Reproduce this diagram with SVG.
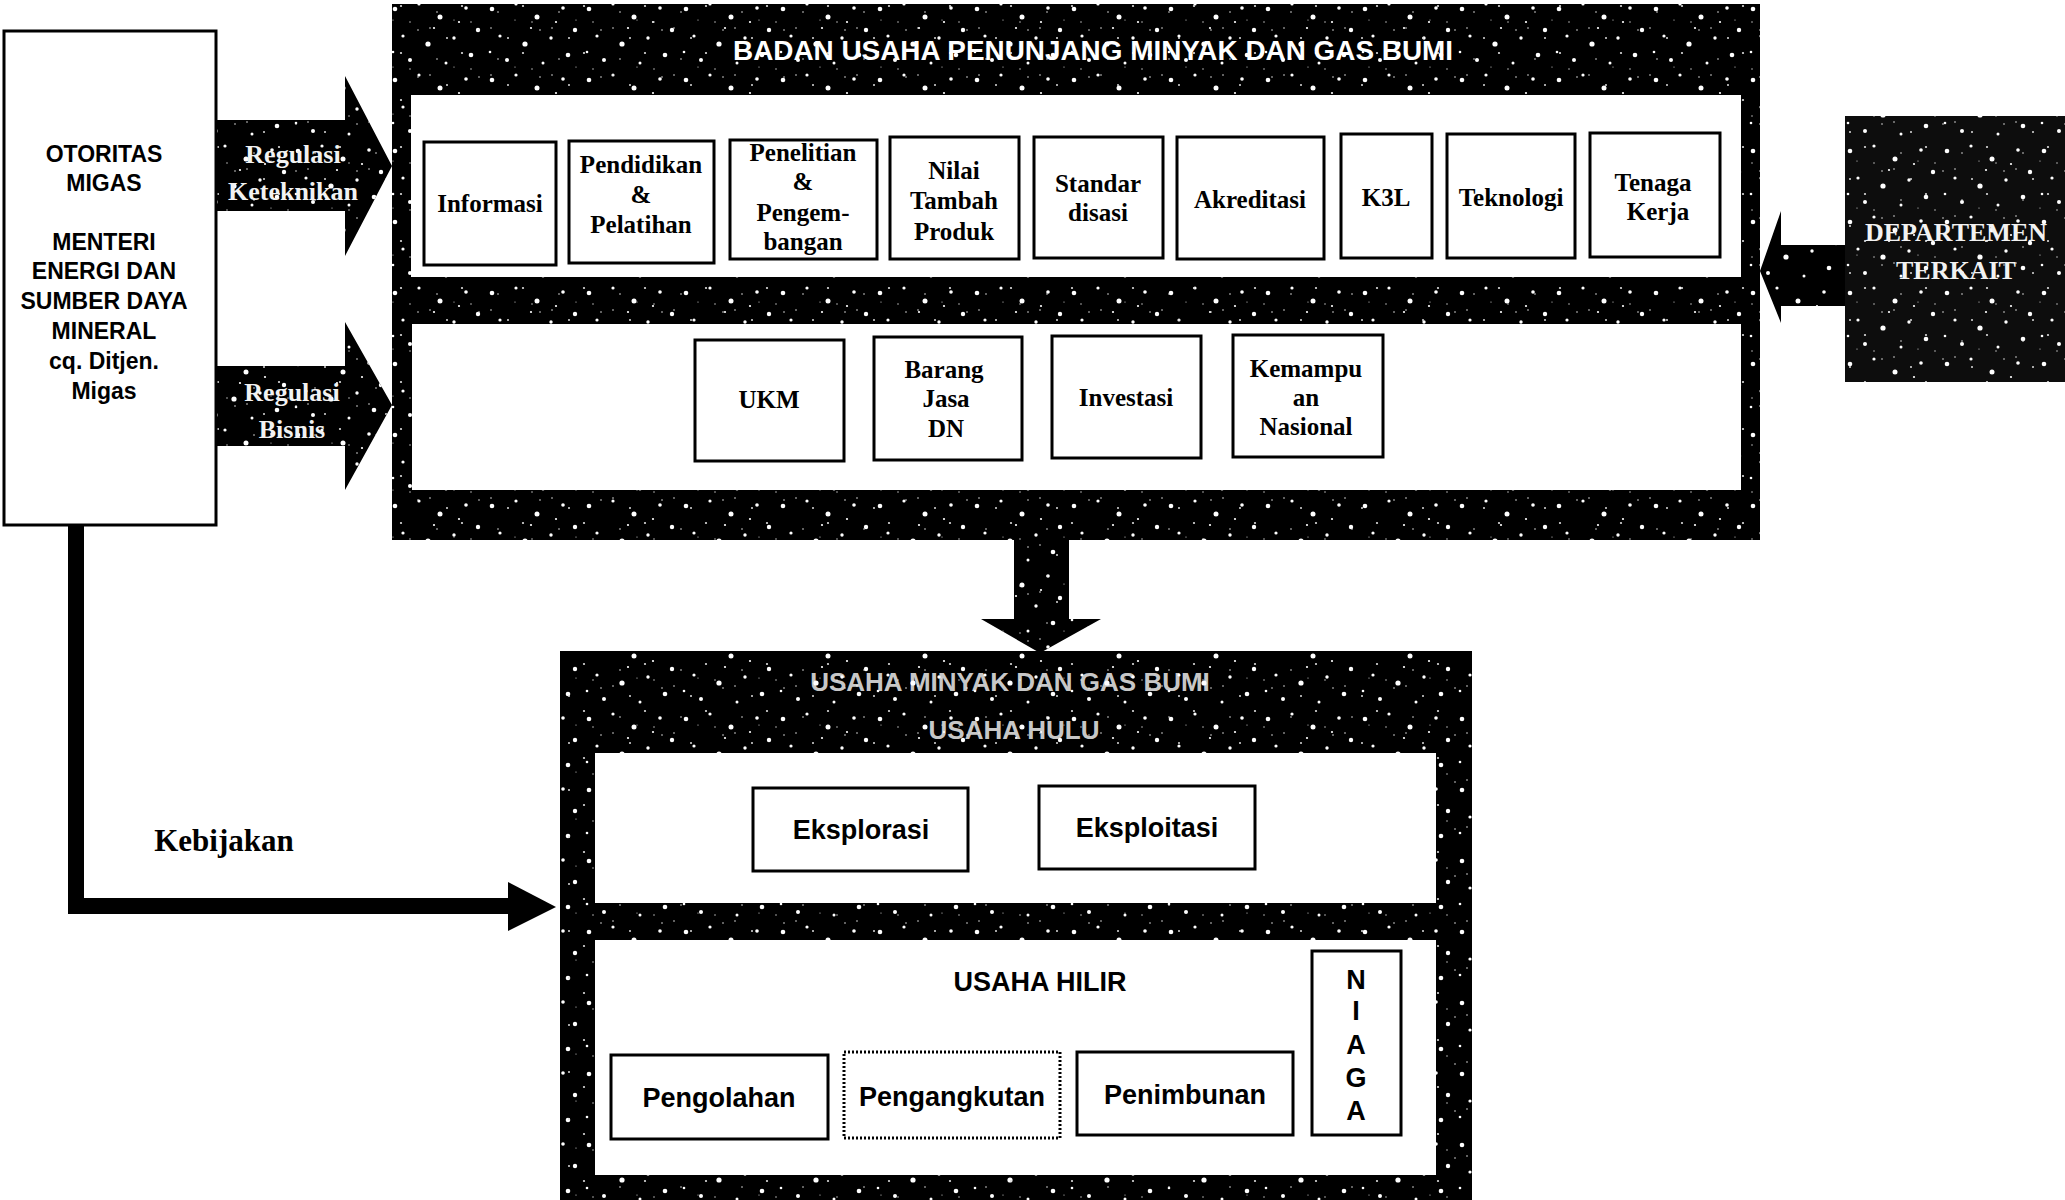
<svg xmlns="http://www.w3.org/2000/svg" width="2065" height="1200" viewBox="0 0 2065 1200">
  <style>
    .box { fill: #fff; stroke: #000; stroke-width: 3; }
    .dot { fill: #fff; stroke: #000; stroke-width: 3; stroke-dasharray: 2 2; }
    .dark { fill: #000; }
    .grain { fill: url(#stars-a); }
    .grain2 { fill: url(#stars-b); }
    .inner { fill: #fff; }
    .serif { font-family: "Liberation Serif", "Times New Roman", serif; font-weight: bold; font-size: 25px; fill: #000; text-anchor: middle; }
    .sans { font-family: "Liberation Sans", Arial, sans-serif; font-weight: bold; font-size: 27px; fill: #000; text-anchor: middle; }
    .head { font-family: "Liberation Sans", Arial, sans-serif; font-weight: bold; fill: #fff; text-anchor: middle; }
    .rev { font-family: "Liberation Serif", "Times New Roman", serif; font-weight: bold; font-size: 26px; fill: #f2f2f2; text-anchor: middle; }
    .auth { font-family: "Liberation Sans", Arial, sans-serif; font-weight: bold; font-size: 23px; fill: #000; text-anchor: middle; }
  </style>
  <defs>
    <!-- speckled fill used on the black bands and block arrows -->
    <pattern id="stars-a" width="97" height="71" patternUnits="userSpaceOnUse">
      <circle cx="7" cy="9" r="2.3" fill="#fff"/>
      <circle cx="31" cy="4" r="1.6" fill="#fff"/>
      <circle cx="52" cy="17" r="2.5" fill="#fff"/>
      <circle cx="78" cy="8" r="1.8" fill="#fff"/>
      <circle cx="90" cy="30" r="2.2" fill="#fff"/>
      <circle cx="15" cy="36" r="1.6" fill="#fff"/>
      <circle cx="40" cy="44" r="2.6" fill="#fff"/>
      <circle cx="66" cy="38" r="1.7" fill="#fff"/>
      <circle cx="83" cy="55" r="2.3" fill="#fff"/>
      <circle cx="22" cy="60" r="2" fill="#fff"/>
      <circle cx="58" cy="63" r="1.5" fill="#fff"/>
      <circle cx="5" cy="52" r="1.3" fill="#fff"/>
      <circle cx="71" cy="22" r="1.1" fill="#fff"/>
      <circle cx="46" cy="28" r="1.1" fill="#fff"/>
    </pattern>
    <pattern id="stars-b" width="61" height="47" patternUnits="userSpaceOnUse">
      <circle cx="10" cy="12" r="0.8" fill="#ddd"/>
      <circle cx="35" cy="6" r="1.1" fill="#ddd"/>
      <circle cx="52" cy="30" r="0.8" fill="#ddd"/>
      <circle cx="20" cy="38" r="1" fill="#ddd"/>
      <circle cx="44" cy="22" r="0.7" fill="#ddd"/>
      <circle cx="3" cy="28" r="0.8" fill="#ddd"/>
      <circle cx="27" cy="20" r="0.6" fill="#ddd"/>
    </pattern>
  </defs>

  <rect width="2065" height="1200" fill="#fff"/>

  <!-- block arrows and the policy line -->
  <g id="connectors">
    <g id="arrow-keteknikan">
      <polygon class="dark" points="216,120 345,120 345,76 392,166 345,256 345,211 216,211"/>
      <polygon class="grain" points="216,120 345,120 345,76 392,166 345,256 345,211 216,211"/>
      <polygon class="grain2" points="216,120 345,120 345,76 392,166 345,256 345,211 216,211"/>
      <text class="rev" x="293" y="163">Regulasi</text>
      <text class="rev" x="293" y="200">Keteknikan</text>
    </g>
    <g id="arrow-bisnis">
      <polygon class="dark" points="216,366 345,366 345,322 392,405 345,490 345,446 216,446"/>
      <polygon class="grain" points="216,366 345,366 345,322 392,405 345,490 345,446 216,446"/>
      <polygon class="grain2" points="216,366 345,366 345,322 392,405 345,490 345,446 216,446"/>
      <text class="rev" x="292" y="401">Regulasi</text>
      <text class="rev" x="292" y="438">Bisnis</text>
    </g>
    <g id="arrow-departemen">
      <polygon class="dark" points="1845,245 1781,245 1781,211 1760,271 1781,323 1781,306 1845,306"/>
      <polygon class="grain" points="1845,245 1781,245 1781,211 1760,271 1781,323 1781,306 1845,306"/>
    </g>
    <g id="arrow-down">
      <polygon class="dark" points="1014,538 1069,538 1069,619 1101,619 1040,653 981,619 1014,619"/>
      <polygon class="grain" points="1014,538 1069,538 1069,619 1101,619 1040,653 981,619 1014,619"/>
      <polygon class="grain2" points="1014,538 1069,538 1069,619 1101,619 1040,653 981,619 1014,619"/>
    </g>
    <g id="kebijakan">
      <polyline points="76,524 76,906 510,906" fill="none" stroke="#000" stroke-width="16"/>
      <polygon points="508,882 556,907 508,931" fill="#000"/>
      <text x="224" y="851" font-family="'Liberation Serif', 'Times New Roman', serif" font-weight="bold" font-size="31" text-anchor="middle">Kebijakan</text>
    </g>
  </g>

  <!-- authority -->
  <g id="otoritas">
    <rect class="box" x="4" y="31" width="212" height="494"/>
    <text class="auth" x="104" y="162">OTORITAS</text>
    <text class="auth" x="104" y="191">MIGAS</text>
    <text class="auth" x="104" y="250">MENTERI</text>
    <text class="auth" x="104" y="279">ENERGI DAN</text>
    <text class="auth" x="104" y="309">SUMBER DAYA</text>
    <text class="auth" x="104" y="339">MINERAL</text>
    <text class="auth" x="104" y="369">cq. Ditjen.</text>
    <text class="auth" x="104" y="399">Migas</text>
  </g>

  <!-- related departments -->
  <g id="departemen">
    <rect x="1845" y="116" width="220" height="266" fill="#0d0d0d"/>
    <rect x="1845" y="116" width="220" height="266" class="grain"/>
    <rect x="1845" y="116" width="220" height="266" class="grain2"/>
    <text class="rev" x="1956" y="241" font-size="26">DEPARTEMEN</text>
    <text class="rev" x="1956" y="279" font-size="26">TERKAIT</text>
  </g>

  <!-- supporting business panel -->
  <g id="badan-usaha-penunjang">
    <rect class="dark" x="392" y="4" width="1368" height="536"/>
    <rect class="grain" x="392" y="4" width="1368" height="536"/>
    <rect class="grain2" x="392" y="4" width="1368" height="536"/>
    <text class="head" x="1093" y="60" font-size="28" textLength="720" lengthAdjust="spacingAndGlyphs">BADAN USAHA PENUNJANG MINYAK DAN GAS BUMI</text>
    <rect class="inner" x="411" y="95" width="1330" height="182"/>
    <rect class="inner" x="412" y="324" width="1329" height="166"/>
  </g>

  <g id="informasi">
    <rect class="box" x="424" y="142" width="132" height="123"/>
    <text class="serif" x="490" y="212">Informasi</text>
  </g>
  <g id="pendidikan">
    <rect class="box" x="569" y="141" width="145" height="122"/>
    <text class="serif" x="641" y="173">Pendidikan</text>
    <text class="serif" x="641" y="203">&amp;</text>
    <text class="serif" x="641" y="233">Pelatihan</text>
  </g>
  <g id="penelitian">
    <rect class="box" x="730" y="140" width="147" height="119"/>
    <text class="serif" x="803" y="161">Penelitian</text>
    <text class="serif" x="803" y="190">&amp;</text>
    <text class="serif" x="803" y="221">Pengem-</text>
    <text class="serif" x="803" y="250">bangan</text>
  </g>
  <g id="nilai-tambah">
    <rect class="box" x="890" y="137" width="129" height="122"/>
    <text class="serif" x="954" y="179">Nilai</text>
    <text class="serif" x="954" y="209">Tambah</text>
    <text class="serif" x="954" y="240">Produk</text>
  </g>
  <g id="standardisasi">
    <rect class="box" x="1034" y="137" width="129" height="121"/>
    <text class="serif" x="1098" y="192">Standar</text>
    <text class="serif" x="1098" y="221">disasi</text>
  </g>
  <g id="akreditasi">
    <rect class="box" x="1177" y="137" width="147" height="122"/>
    <text class="serif" x="1250" y="208">Akreditasi</text>
  </g>
  <g id="k3l">
    <rect class="box" x="1341" y="134" width="91" height="124"/>
    <text class="serif" x="1386" y="206">K3L</text>
  </g>
  <g id="teknologi">
    <rect class="box" x="1447" y="134" width="128" height="124"/>
    <text class="serif" x="1511" y="206">Teknologi</text>
  </g>
  <g id="tenaga-kerja">
    <rect class="box" x="1590" y="133" width="130" height="124"/>
    <text class="serif" x="1653" y="191">Tenaga</text>
    <text class="serif" x="1658" y="220">Kerja</text>
  </g>

  <g id="ukm">
    <rect class="box" x="695" y="340" width="149" height="121"/>
    <text class="serif" x="769" y="408">UKM</text>
  </g>
  <g id="barang-jasa">
    <rect class="box" x="874" y="337" width="148" height="123"/>
    <text class="serif" x="944" y="378">Barang</text>
    <text class="serif" x="946" y="407">Jasa</text>
    <text class="serif" x="946" y="437">DN</text>
  </g>
  <g id="investasi">
    <rect class="box" x="1052" y="336" width="149" height="122"/>
    <text class="serif" x="1126" y="406">Investasi</text>
  </g>
  <g id="kemampuan-nasional">
    <rect class="box" x="1233" y="335" width="150" height="122"/>
    <text class="serif" x="1306" y="377">Kemampu</text>
    <text class="serif" x="1306" y="406">an</text>
    <text class="serif" x="1306" y="435">Nasional</text>
  </g>

  <!-- oil and gas business panel -->
  <g id="usaha-migas">
    <rect class="dark" x="560" y="651" width="912" height="549"/>
    <rect class="grain" x="560" y="651" width="912" height="549"/>
    <rect class="grain2" x="560" y="651" width="912" height="549"/>
    <text class="head" x="1010" y="691" font-size="26" fill-opacity="0.8">USAHA MINYAK DAN GAS BUMI</text>
    <text class="head" x="1014" y="739" font-size="26" fill-opacity="0.8">USAHA HULU</text>
    <rect class="inner" x="595" y="753" width="841" height="150"/>
    <rect class="inner" x="595" y="940" width="841" height="235"/>
    <text class="sans" x="1040" y="991">USAHA HILIR</text>
  </g>

  <g id="eksplorasi">
    <rect class="box" x="753" y="788" width="215" height="83"/>
    <text class="sans" x="861" y="839">Eksplorasi</text>
  </g>
  <g id="eksploitasi">
    <rect class="box" x="1039" y="786" width="216" height="83"/>
    <text class="sans" x="1147" y="837">Eksploitasi</text>
  </g>
  <g id="pengolahan">
    <rect class="box" x="611" y="1055" width="217" height="84"/>
    <text class="sans" x="719" y="1107">Pengolahan</text>
  </g>
  <g id="pengangkutan">
    <rect class="dot" x="844" y="1052" width="216" height="86"/>
    <text class="sans" x="952" y="1106">Pengangkutan</text>
  </g>
  <g id="penimbunan">
    <rect class="box" x="1077" y="1052" width="216" height="83"/>
    <text class="sans" x="1185" y="1104">Penimbunan</text>
  </g>
  <g id="niaga">
    <rect class="box" x="1312" y="951" width="89" height="184"/>
    <text class="sans" x="1356" y="989">N</text>
    <text class="sans" x="1356" y="1020">I</text>
    <text class="sans" x="1356" y="1054">A</text>
    <text class="sans" x="1356" y="1087">G</text>
    <text class="sans" x="1356" y="1120">A</text>
  </g>
</svg>
